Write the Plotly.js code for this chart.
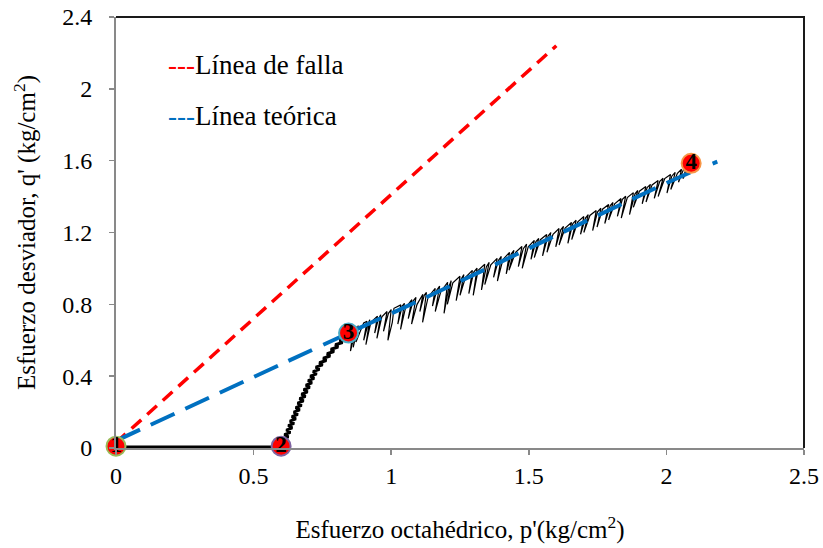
<!DOCTYPE html>
<html>
<head>
<meta charset="utf-8">
<script src="https://cdn.plot.ly/plotly-3.0.1.min.js"></script>
<style>html,body{margin:0;padding:0;background:#fff;}#chart{width:823px;height:548px;}</style>
</head>
<body>
<div id="chart"></div>
<script>
// Failure line
const pFalla = [0, 1.6];
const qFalla = [0.03, 2.24];
// Theoretical line
const pTeorica = [0, 0.845, 1.17, 1.58, 2.0, 2.11];
const qTeorica = [0.04, 0.64, 0.87, 1.17, 1.475, 1.55];
const pTeoricaExt = [2.168, 2.185];
const qTeoricaExt = [1.584, 1.594];
// Consolidation path (1 -> 2)
const pCons = [0, 0.6];
const qCons = [0.006, 0.006];
// Loading path, stage 2 -> 3
const pCarga1 = [0.600,0.6125,0.598,0.6195,0.605,0.6265,0.612,0.6335,0.619,0.6404,0.626,0.647,0.632,0.6535,0.639,0.6605,0.646,0.6675,0.653,0.6745,0.660,0.6815,0.667,0.6885,0.674,0.696,0.682,0.704,0.690,0.712,0.698,0.720,0.706,0.729,0.716,0.739,0.726,0.7505,0.739,0.764,0.753,0.778,0.767,0.792,0.781,0.807,0.797,0.823,0.813,0.839,0.827,0.845];
const qCarga1 = [0.0000,0.0125,0.0250,0.0375,0.0500,0.0625,0.0750,0.0875,0.1000,0.1125,0.1250,0.1375,0.1500,0.1625,0.1750,0.1875,0.2000,0.2125,0.2250,0.2375,0.2500,0.2625,0.2750,0.2875,0.3000,0.3125,0.3250,0.3375,0.3500,0.3625,0.3750,0.3875,0.4000,0.4125,0.4250,0.4375,0.4500,0.4625,0.4750,0.4875,0.5000,0.5125,0.5250,0.5375,0.5500,0.5625,0.5750,0.5875,0.6000,0.6125,0.6250,0.6400];
// Loading path, stage 3 -> 4 (serrated)
const pCarga2 = [0.845,0.862,0.852,0.868,0.874,0.862,0.880,0.872,0.900,0.912,0.900,0.916,0.922,0.908,0.926,
  0.950,0.940,0.954,0.962,0.948,0.966,0.985,0.972,0.990,1.000,0.988,1.004,1.010,
  1.035,1.024,1.040,1.048,1.034,1.052,1.075,1.062,1.080,1.090,1.074,1.094,
  1.115,1.104,1.120,1.128,1.114,1.134,1.160,1.150,1.166,1.176,1.160,1.180,
  1.205,1.192,1.210,1.218,1.204,1.224,1.250,1.236,1.254,1.264,1.250,1.270,
  1.295,1.282,1.300,1.312,1.298,1.316,1.340,1.328,1.346,1.356,1.340,1.362,
  1.385,1.372,1.390,1.400,1.386,1.406,1.430,1.418,1.436,1.446,1.428,1.452,
  1.475,1.462,1.480,1.492,1.476,1.498,1.520,1.508,1.526,1.536,1.520,1.542,
  1.565,1.550,1.570,1.580,1.566,1.588,1.610,1.598,1.616,1.626,1.610,1.632,
  1.655,1.642,1.660,1.672,1.656,1.678,1.700,1.688,1.706,1.716,1.700,1.722,
  1.745,1.732,1.750,1.762,1.748,1.768,1.790,1.776,1.796,1.806,1.790,1.812,
  1.835,1.822,1.840,1.852,1.836,1.858,1.880,1.866,1.886,1.896,1.880,1.902,
  1.925,1.912,1.930,1.942,1.926,1.948,1.970,1.956,1.976,1.988,1.970,1.994,
  2.015,2.002,2.020,2.032,2.016,2.040,2.055,2.044,2.062,2.074,2.060,2.090];
const qCarga2 = [0.640,0.668,0.540,0.640,0.676,0.560,0.682,0.590,0.697,0.705,0.600,0.690,0.714,0.575,0.700,
  0.734,0.640,0.720,0.742,0.610,0.730,0.760,0.650,0.750,0.771,0.600,0.700,0.778,
  0.797,0.690,0.790,0.806,0.660,0.780,0.826,0.720,0.820,0.838,0.690,0.800,
  0.856,0.760,0.850,0.866,0.700,0.840,0.889,0.790,0.880,0.901,0.760,0.870,
  0.923,0.750,0.900,0.932,0.800,0.920,0.956,0.820,0.940,0.966,0.850,0.950,
  0.989,0.860,0.980,1.002,0.850,0.990,1.023,0.880,1.010,1.034,0.910,1.020,
  1.056,0.950,1.045,1.067,0.930,1.050,1.089,0.970,1.080,1.101,0.990,1.090,
  1.122,1.010,1.110,1.135,1.000,1.120,1.156,1.050,1.150,1.167,1.060,1.160,
  1.189,1.070,1.180,1.200,1.090,1.190,1.222,1.120,1.215,1.234,1.130,1.225,
  1.256,1.140,1.250,1.268,1.160,1.260,1.289,1.190,1.280,1.300,1.200,1.295,
  1.322,1.210,1.315,1.335,1.230,1.330,1.356,1.250,1.350,1.367,1.270,1.360,
  1.389,1.290,1.385,1.402,1.280,1.395,1.422,1.300,1.415,1.434,1.340,1.430,
  1.456,1.360,1.450,1.468,1.370,1.465,1.489,1.390,1.485,1.502,1.400,1.500,
  1.523,1.420,1.515,1.535,1.440,1.530,1.552,1.480,1.550,1.566,1.500,1.580];
// Stage points
const etiquetas = ["1","2","3","4"];
const pEtapa = [0, 0.6, 0.845, 2.09];
const qEtapa = [0.01, 0.01, 0.64, 1.585];
const bordes = ["#9bbb59","#8064a2","#4bacc6","#f79646"];

const serif = "Liberation Serif, Times New Roman, serif";

const traces = [
  {x: pFalla, y: qFalla, mode: "lines", line: {color: "#ff0000", width: 3.5, dash: "13px,8px"}, hoverinfo: "skip"},
  {x: pCons, y: qCons, mode: "lines", line: {color: "#000", width: 3}, hoverinfo: "skip"},
  {x: pCarga1, y: qCarga1, mode: "lines", line: {color: "#000", width: 3}, hoverinfo: "skip"},
  {x: pCarga2, y: qCarga2, mode: "lines", line: {color: "#000", width: 1.2}, hoverinfo: "skip"},
  {x: pTeorica, y: qTeorica, mode: "lines", line: {color: "#0070c0", width: 4, dash: "26px,12px", shape: "spline"}, hoverinfo: "skip"},
  {x: pTeoricaExt, y: qTeoricaExt, mode: "lines", line: {color: "#0070c0", width: 4}, hoverinfo: "skip"},
  {x: pEtapa, y: qEtapa, mode: "markers+text", text: etiquetas, textposition: "middle center",
   textfont: {family: serif, size: 23, color: "#000", weight: "bold"},
   marker: {size: 19, color: "#ff0000", line: {color: bordes, width: 2}}, cliponaxis: false, hoverinfo: "skip"}
];

const layout = {
  width: 823, height: 548,
  margin: {l: 116, r: 19, t: 17, b: 100},
  paper_bgcolor: "#fff", plot_bgcolor: "#fff",
  showlegend: false,
  font: {family: serif, size: 20, color: "#000"},
  xaxis: {
    range: [0, 2.5], dtick: 0.5, tick0: 0, showgrid: false, zeroline: false,
    showline: true, linecolor: "#898989", linewidth: 2,
    ticks: "outside", ticklen: 5, tickcolor: "#898989", tickwidth: 1.5,
    tickfont: {family: serif, size: 24, color: "#000"},
    title: {text: "Esfuerzo octahédrico, p'(kg/cm<sup>2</sup>)", font: {family: serif, size: 25, color: "#000"}, standoff: 33}
  },
  yaxis: {
    range: [0, 2.4], dtick: 0.4, tick0: 0, showgrid: false, zeroline: false,
    showline: true, linecolor: "#898989", linewidth: 2,
    ticks: "outside", ticklen: 5, tickcolor: "#898989", tickwidth: 1.5, ticksuffix: "\u2002",
    tickfont: {family: serif, size: 24, color: "#000"},
    title: {text: "Esfuerzo desviador, q' (kg/cm<sup>2</sup>)", font: {family: serif, size: 25, color: "#000"}, standoff: 19}
  },
  shapes: [
    {type: "path", xref: "paper", yref: "paper", path: "M 0 1 L 1 1 L 1 0", line: {color: "#1a1a1a", width: 2}}
  ],
  annotations: [
    {xref: "paper", yref: "paper", x: 0.073, y: 0.889, xanchor: "left", yanchor: "middle", showarrow: false,
     text: "<span style='color:#ff0000'>---</span>Línea de falla", font: {family: serif, size: 27, color: "#000"}},
    {xref: "paper", yref: "paper", x: 0.073, y: 0.770, xanchor: "left", yanchor: "middle", showarrow: false,
     text: "<span style='color:#0070c0'>---</span>Línea teórica", font: {family: serif, size: 27, color: "#000"}}
  ]
};

Plotly.newPlot("chart", traces, layout, {staticPlot: true, displayModeBar: false});
</script>
</body>
</html>
